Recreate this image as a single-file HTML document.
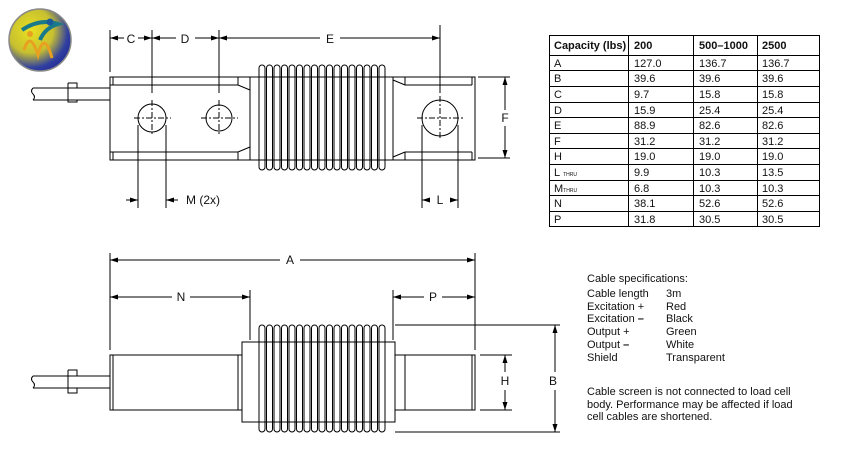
<!DOCTYPE html>
<html><head><meta charset="utf-8"><style>
body{margin:0;background:#fff;width:848px;height:452px;overflow:hidden}
svg{display:block}
text{font-family:"Liberation Sans",Arial,sans-serif;fill:#111}
</style></head><body>
<svg width="848" height="452" viewBox="0 0 848 452">
<defs>
<radialGradient id="lg" cx="0.35" cy="0.35" r="0.8"><stop offset="0" stop-color="#e8e020"/><stop offset="0.45" stop-color="#c8c030"/><stop offset="0.75" stop-color="#3040a0"/><stop offset="1" stop-color="#1a2090"/></radialGradient>
<marker id="ar" markerWidth="8" markerHeight="6" refX="8" refY="3" orient="auto" markerUnits="userSpaceOnUse"><path d="M0,0.5 L8,3 L0,5.5z" fill="#000"/></marker>
<rect id="fT" x="0" y="0" width="6" height="105" rx="3" fill="#fff" stroke="#000" stroke-width="1"/>
<rect id="fB" x="0" y="0" width="6" height="107" rx="3" fill="#fff" stroke="#000" stroke-width="1"/>
</defs>
<!-- logo -->
<circle cx="40" cy="40" r="31" fill="url(#lg)" stroke="#888" stroke-width="1.5"/>
<path d="M22,30 Q40,18 58,24 Q45,28 40,40" fill="none" stroke="#1a7a8a" stroke-width="4"/>
<path d="M24,50 Q30,30 38,55 Q44,30 52,58" fill="none" stroke="#e8a020" stroke-width="3"/>
<circle cx="50" cy="22" r="3.5" fill="#1a5a9a"/><circle cx="30" cy="34" r="3" fill="#e8a020"/>

<g stroke="#000" stroke-width="1" fill="none">
<!-- TOP VIEW -->
<path d="M33,88 H110 M33,100 H110 M68,83 H77 V88 M68,83 V102 H77 V100"/>
<path d="M33,88 q-3,3 0,6 q3,3 0,6"/>
<rect x="110" y="77" width="140" height="83" fill="#fff"/>
<path d="M113,77 V85 M113,152 V160 M110,85 H238 L250,90 M110,152 H238 L250,147 M238,77 V85 M238,152 V160"/>
<circle cx="152" cy="118" r="14"/><circle cx="219" cy="118" r="13"/>
<rect x="250" y="77" width="9" height="83" fill="#fff"/>
<g>
<use href="#fT" x="259" y="65"/><use href="#fT" x="266.5" y="65"/><use href="#fT" x="274" y="65"/><use href="#fT" x="281.5" y="65"/><use href="#fT" x="289" y="65"/><use href="#fT" x="296.5" y="65"/><use href="#fT" x="304" y="65"/><use href="#fT" x="311.5" y="65"/><use href="#fT" x="319" y="65"/><use href="#fT" x="326.5" y="65"/><use href="#fT" x="334" y="65"/><use href="#fT" x="341.5" y="65"/><use href="#fT" x="349" y="65"/><use href="#fT" x="356.5" y="65"/><use href="#fT" x="364" y="65"/><use href="#fT" x="371.5" y="65"/><use href="#fT" x="379" y="65"/>
</g>
<path d="M259,77 H385 M259,160 H385"/>
<rect x="385" y="77" width="8" height="83" fill="#fff"/>
<rect x="393" y="77" width="82" height="83" fill="#fff"/>
<path d="M393,80 L405,85 H472 M393,157 L405,152 H472 M405,77 V85 M405,152 V160 M472,77 V85 M472,152 V160"/>
<circle cx="440" cy="118" r="18"/>
<!-- centerlines -->
<g stroke-dasharray="6,2,2,2">
<path d="M134,118 H171 M152,100 V136 M201,118 H238 M219,100 V136 M417,118 H463 M440,96 V140"/>
</g>
<!-- dims top -->
<path d="M110,30 V72 M152,30 V93 M219,30 V93 M440,25 V93"/>
<path d="M124,38 H110" marker-end="url(#ar)"/><path d="M138,38 H152" marker-end="url(#ar)"/>
<path d="M176,38 H152" marker-end="url(#ar)"/><path d="M195,38 H219" marker-end="url(#ar)"/>
<path d="M320,38 H219" marker-end="url(#ar)"/><path d="M340,38 H440" marker-end="url(#ar)"/>
<path d="M478,77 H510 M478,158 H510"/>
<path d="M505,110 V77" marker-end="url(#ar)"/><path d="M505,126 V158" marker-end="url(#ar)"/>
<path d="M138,125 V208 M166,125 V208 M422,125 V208 M458,125 V208"/>
<path d="M126,200 H138" marker-end="url(#ar)"/><path d="M178,200 H166" marker-end="url(#ar)"/>
<path d="M428,200 H422" marker-end="url(#ar)"/><path d="M453,200 H458" marker-end="url(#ar)"/>

<!-- BOTTOM VIEW -->
<path d="M33,376 H110 M33,388 H110 M68,370 H77 V376 M68,370 V393 H77 V388"/>
<path d="M33,376 q-3,3 0,6 q3,3 0,6"/>
<rect x="110" y="355" width="132" height="55" fill="#fff"/>
<path d="M113,355 V410 M238,355 V410"/>
<rect x="242" y="342" width="17" height="80" fill="#fff"/>
<use href="#fB" x="259" y="325"/><use href="#fB" x="266.5" y="325"/><use href="#fB" x="274" y="325"/><use href="#fB" x="281.5" y="325"/><use href="#fB" x="289" y="325"/><use href="#fB" x="296.5" y="325"/><use href="#fB" x="304" y="325"/><use href="#fB" x="311.5" y="325"/><use href="#fB" x="319" y="325"/><use href="#fB" x="326.5" y="325"/><use href="#fB" x="334" y="325"/><use href="#fB" x="341.5" y="325"/><use href="#fB" x="349" y="325"/><use href="#fB" x="356.5" y="325"/><use href="#fB" x="364" y="325"/><use href="#fB" x="371.5" y="325"/><use href="#fB" x="379" y="325"/>
<path d="M259,342 H385 M259,422 H385"/>
<rect x="385" y="342" width="10" height="80" fill="#fff"/>
<rect x="395" y="355" width="80" height="55" fill="#fff"/>
<path d="M405,355 V410 M472,355 V410"/>
<!-- dims bottom -->
<path d="M110,253 V350 M475,253 V350 M250,290 V340 M393,290 V340"/>
<path d="M280,260 H110" marker-end="url(#ar)"/><path d="M300,260 H475" marker-end="url(#ar)"/>
<path d="M172,297 H110" marker-end="url(#ar)"/><path d="M190,297 H250" marker-end="url(#ar)"/>
<path d="M424,297 H393" marker-end="url(#ar)"/><path d="M442,297 H475" marker-end="url(#ar)"/>
<path d="M395,325 H560 M395,432 H560 M480,355 H512 M480,410 H512"/>
<path d="M505,372 V355" marker-end="url(#ar)"/><path d="M505,390 V410" marker-end="url(#ar)"/>
<path d="M555,372 V325" marker-end="url(#ar)"/><path d="M555,390 V432" marker-end="url(#ar)"/>
</g>
<g font-size="12" text-anchor="middle">
<text x="131" y="43">C</text><text x="185" y="43">D</text><text x="330" y="43">E</text>
<text x="505" y="122">F</text><text x="440" y="204">L</text>
<text x="203" y="204">M (2x)</text>
<text x="290" y="264">A</text><text x="181" y="301">N</text><text x="433" y="301">P</text>
<text x="505" y="385">H</text><text x="553" y="385">B</text>
</g>

<!-- table -->
<g stroke="#000" stroke-width="1" fill="none">
<rect x="549.5" y="35.5" width="270" height="191"/>
<path d="M628.5,35 V227 M693.5,35 V227 M757.5,35 V227"/>
<path d="M549,55.5 H820 M549,70.5 H820 M549,86.5 H820 M549,102.5 H820 M549,117.5 H820 M549,133.5 H820 M549,148.5 H820 M549,164.5 H820 M549,180.5 H820 M549,195.5 H820 M549,211.5 H820"/>
</g>
<g font-size="11">
<g font-weight="bold"><text x="554" y="49">Capacity (lbs)</text><text x="634" y="49">200</text><text x="699" y="49">500–1000</text><text x="762" y="49">2500</text></g>
<text x="554" y="67">A</text><text x="634" y="67">127.0</text><text x="699" y="67">136.7</text><text x="762" y="67">136.7</text>
<text x="554" y="82">B</text><text x="634" y="82">39.6</text><text x="699" y="82">39.6</text><text x="762" y="82">39.6</text>
<text x="554" y="98">C</text><text x="634" y="98">9.7</text><text x="699" y="98">15.8</text><text x="762" y="98">15.8</text>
<text x="554" y="114">D</text><text x="634" y="114">15.9</text><text x="699" y="114">25.4</text><text x="762" y="114">25.4</text>
<text x="554" y="129">E</text><text x="634" y="129">88.9</text><text x="699" y="129">82.6</text><text x="762" y="129">82.6</text>
<text x="554" y="145">F</text><text x="634" y="145">31.2</text><text x="699" y="145">31.2</text><text x="762" y="145">31.2</text>
<text x="554" y="160">H</text><text x="634" y="160">19.0</text><text x="699" y="160">19.0</text><text x="762" y="160">19.0</text>
<text x="554" y="176">L<tspan font-size="5" dx="3">THRU</tspan></text><text x="634" y="176">9.9</text><text x="699" y="176">10.3</text><text x="762" y="176">13.5</text>
<text x="554" y="192">M<tspan font-size="5">THRU</tspan></text><text x="634" y="192">6.8</text><text x="699" y="192">10.3</text><text x="762" y="192">10.3</text>
<text x="554" y="207">N</text><text x="634" y="207">38.1</text><text x="699" y="207">52.6</text><text x="762" y="207">52.6</text>
<text x="554" y="223">P</text><text x="634" y="223">31.8</text><text x="699" y="223">30.5</text><text x="762" y="223">30.5</text>
</g>

<g font-size="11">
<text x="587" y="282">Cable specifications:</text>
<text x="587" y="297">Cable length</text><text x="666" y="297">3m</text>
<text x="587" y="310">Excitation +</text><text x="666" y="310">Red</text>
<text x="587" y="322">Excitation <tspan font-weight="bold">–</tspan></text><text x="666" y="322">Black</text>
<text x="587" y="335">Output +</text><text x="666" y="335">Green</text>
<text x="587" y="348">Output <tspan font-weight="bold">–</tspan></text><text x="666" y="348">White</text>
<text x="587" y="361">Shield</text><text x="666" y="361">Transparent</text>
<text x="587" y="395">Cable screen is not connected to load cell</text>
<text x="587" y="408">body. Performance may be affected if load</text>
<text x="587" y="420">cell cables are shortened.</text>
</g>
</svg>
</body></html>
